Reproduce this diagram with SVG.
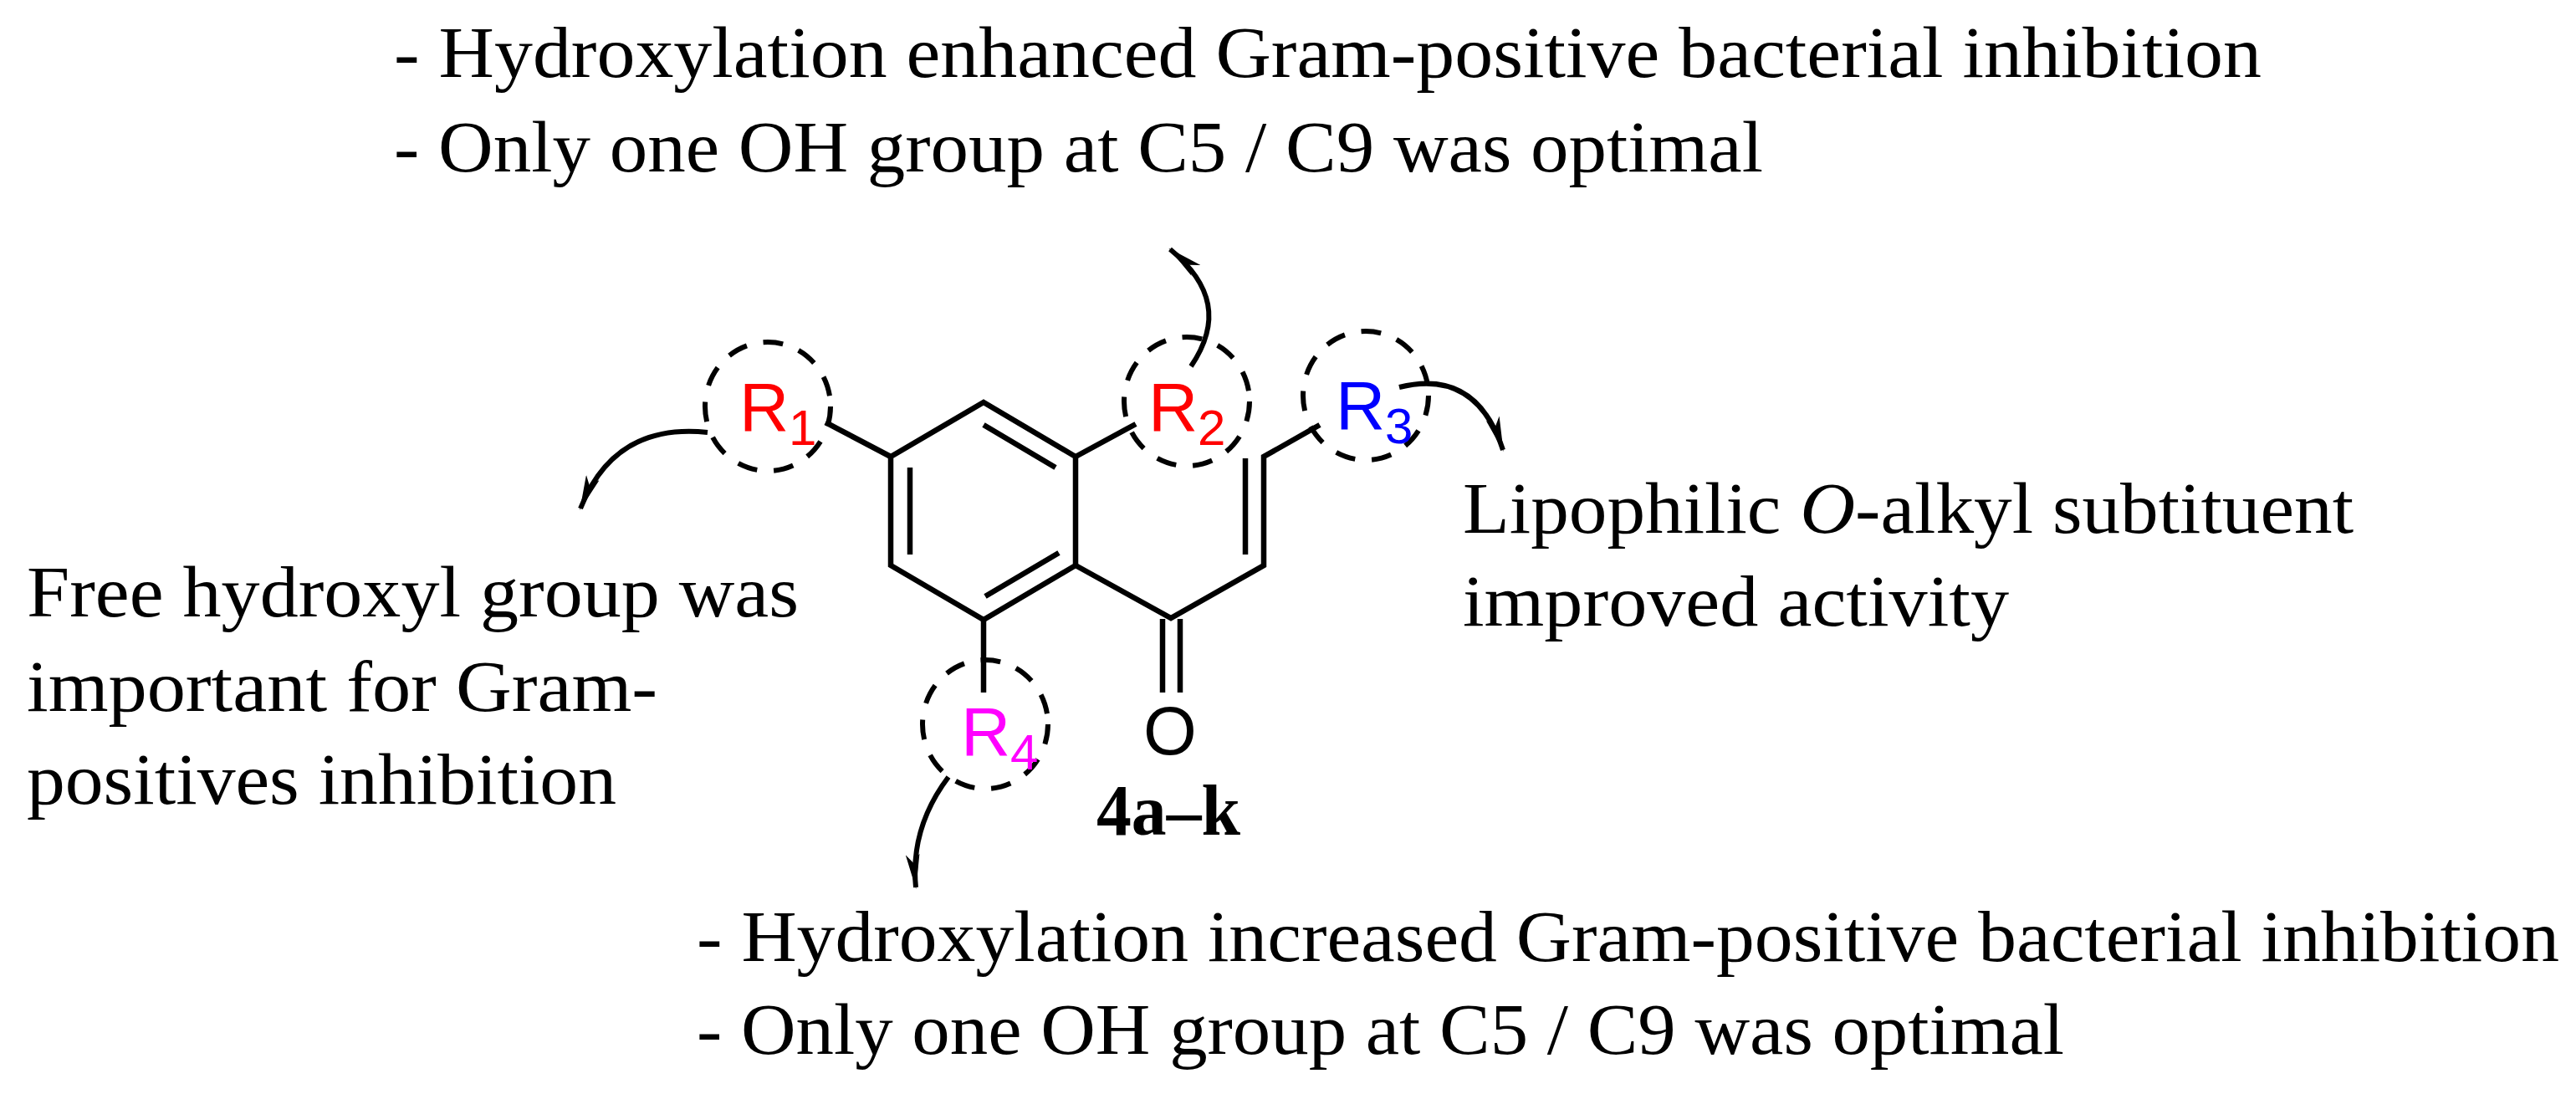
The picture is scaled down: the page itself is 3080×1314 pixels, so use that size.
<svg xmlns="http://www.w3.org/2000/svg" width="3080" height="1314" viewBox="0 0 3080 1314">
<defs>
<style>
.t{font-family:"Liberation Serif",serif;font-size:86px;fill:#000}
.a{font-family:"Liberation Sans",Arial,sans-serif;font-size:82px}
.s{font-size:60px}
.b{fill:none;stroke:#000;stroke-width:6.5;stroke-linecap:butt;stroke-linejoin:miter}
.c{fill:none;stroke:#000;stroke-width:6;stroke-dasharray:24 20}
.ar{fill:none;stroke:#000;stroke-width:6}
</style>
<marker id="ah" viewBox="0 0 20 8" refX="19" refY="4" markerWidth="7" markerHeight="2.8" markerUnits="strokeWidth" orient="auto"><path d="M0,0 L20,4 L0,8 L5,4 Z" fill="#000"/></marker>
</defs>
<rect width="3080" height="1314" fill="#fff"/>
<g id="molecule">
<path class="b" d="M1176,481 L1286,546 L1286,676 L1176,741 L1065,676 L1065,546 Z"/>
<path class="b" d="M1176,508 L1262,559 M1088,559 L1088,663 M1178,713 L1266,661"/>
<path class="b" d="M1286,676 L1400,739 L1511,676 L1511,546 L1578,508 M1489,548 L1489,663"/>
<path class="b" d="M1390,740 L1390,828 M1411,740 L1411,828"/>
<path class="b" d="M1065,546 L987,505 M1286,546 L1358,507 M1176,741 L1176,828"/>
<text class="a" x="1399" y="902" text-anchor="middle">O</text>
<text class="t" x="1311" y="998" font-weight="bold" textLength="172" lengthAdjust="spacingAndGlyphs">4a–k</text>
</g>
<g id="R1"><ellipse class="c" cx="918" cy="486" rx="75" ry="77"/><text class="a" x="884" y="515" fill="#f00">R<tspan class="s" x="943" y="532">1</tspan></text></g>
<g id="R2"><ellipse class="c" cx="1419" cy="480" rx="75" ry="77"/><text class="a" x="1373" y="515" fill="#f00">R<tspan class="s" x="1432" y="532">2</tspan></text></g>
<g id="R3"><ellipse class="c" cx="1633" cy="473" rx="75" ry="77"/><text class="a" x="1597" y="513" fill="#00f">R<tspan class="s" x="1656" y="530">3</tspan></text></g>
<g id="R4"><ellipse class="c" cx="1178" cy="866" rx="75" ry="77"/><text class="a" x="1149" y="903" fill="#f0f">R<tspan class="s" x="1208" y="920">4</tspan></text></g>
<g id="connectors">
<path class="ar" d="M846,517 Q735,505 694,608" marker-end="url(#ah)"/>
<path class="ar" d="M1424,438 C1460,385 1450,340 1399,298" marker-end="url(#ah)"/>
<path class="ar" d="M1673,463 Q1765,440 1797,538" marker-end="url(#ah)"/>
<path class="ar" d="M1134,929 Q1088,990 1095,1061" marker-end="url(#ah)"/>
</g>
<g id="labels">
<text class="t" x="471" y="92" textLength="2233" lengthAdjust="spacingAndGlyphs">- Hydroxylation enhanced Gram-positive bacterial inhibition</text>
<text class="t" x="471" y="205" textLength="1637" lengthAdjust="spacingAndGlyphs">- Only one OH group at C5 / C9 was optimal</text>
<text class="t" x="32" y="737" textLength="923" lengthAdjust="spacingAndGlyphs">Free hydroxyl group was</text>
<text class="t" x="32" y="850" textLength="754" lengthAdjust="spacingAndGlyphs">important for Gram-</text>
<text class="t" x="32" y="961" textLength="705" lengthAdjust="spacingAndGlyphs">positives inhibition</text>
<text class="t" x="1749" y="637" textLength="1065" lengthAdjust="spacingAndGlyphs">Lipophilic <tspan font-style="italic">O</tspan>-alkyl subtituent</text>
<text class="t" x="1749" y="748" textLength="653" lengthAdjust="spacingAndGlyphs">improved activity</text>
<text class="t" x="833" y="1149" textLength="2227" lengthAdjust="spacingAndGlyphs">- Hydroxylation increased Gram-positive bacterial inhibition</text>
<text class="t" x="833" y="1260" textLength="1635" lengthAdjust="spacingAndGlyphs">- Only one OH group at C5 / C9 was optimal</text>
</g>
</svg>
